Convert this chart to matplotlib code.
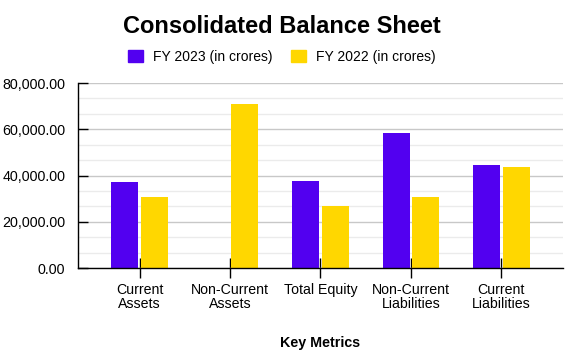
import numpy as np
import matplotlib.pyplot as plt
from matplotlib.ticker import MultipleLocator, FuncFormatter
from matplotlib.patches import Patch

plt.rcParams['font.family'] = ['Liberation Sans', 'DejaVu Sans']

categories = ['Current\nAssets', 'Non-Current\nAssets', 'Total Equity',
              'Non-Current\nLiabilities', 'Current\nLiabilities']
fy2023 = [37000, 0, 37500, 58500, 44700]
fy2022 = [30900, 70800, 26800, 30900, 43500]

blue = '#5200F0'
yellow = '#FFD700'

fig = plt.figure(figsize=(5.85, 3.54), dpi=100)
ax = fig.add_axes([0.1333, 0.2429, 0.829, 0.5226])

x = np.arange(len(categories))
w = 0.295
ax.bar(x - 0.163, fy2023, w, color=blue, zorder=3)
ax.bar(x + 0.163, fy2022, w, color=yellow, zorder=3)

ax.set_xlim(-0.68, 4.68)
ax.set_ylim(0, 80000)
ax.yaxis.set_major_locator(MultipleLocator(20000))
ax.yaxis.set_minor_locator(MultipleLocator(20000 / 3))
ax.yaxis.set_major_formatter(FuncFormatter(lambda v, p: f'{v:,.2f}'))
ax.grid(which='major', axis='y', color='#c8c8c8', lw=1, zorder=0)
ax.grid(which='minor', axis='y', color='#ebebeb', lw=1, zorder=0)

ax.set_xticks(x)
ax.set_xticklabels(categories, fontsize=10.2, linespacing=0.95)
ax.tick_params(axis='x', direction='inout', length=14, width=1, pad=4)
ax.tick_params(axis='y', which='major', direction='in', length=7, width=1, pad=9, labelsize=10.3)
ax.tick_params(axis='y', which='minor', length=0)

for s in ['top', 'right']:
    ax.spines[s].set_visible(False)
for s in ['left', 'bottom']:
    ax.spines[s].set_color('black')
    ax.spines[s].set_linewidth(1)
ax.spines['bottom'].set_zorder(4)

ax.set_xlabel('Key Metrics', fontsize=10.3, fontweight='bold', labelpad=18)

fig.text(0.482, 0.924, 'Consolidated Balance Sheet', ha='center', va='center',
         fontsize=17, fontweight='bold')

handles = [Patch(color=blue, label='FY 2023 (in crores)'),
           Patch(color=yellow, label='FY 2022 (in crores)')]
fig.legend(handles=handles, loc='center', bbox_to_anchor=(0.482, 0.840), ncol=2,
           frameon=False, fontsize=10, handlelength=1.05, handleheight=1.05,
           handletextpad=0.72, columnspacing=1.35)

fig.savefig('out.png', dpi=100)
